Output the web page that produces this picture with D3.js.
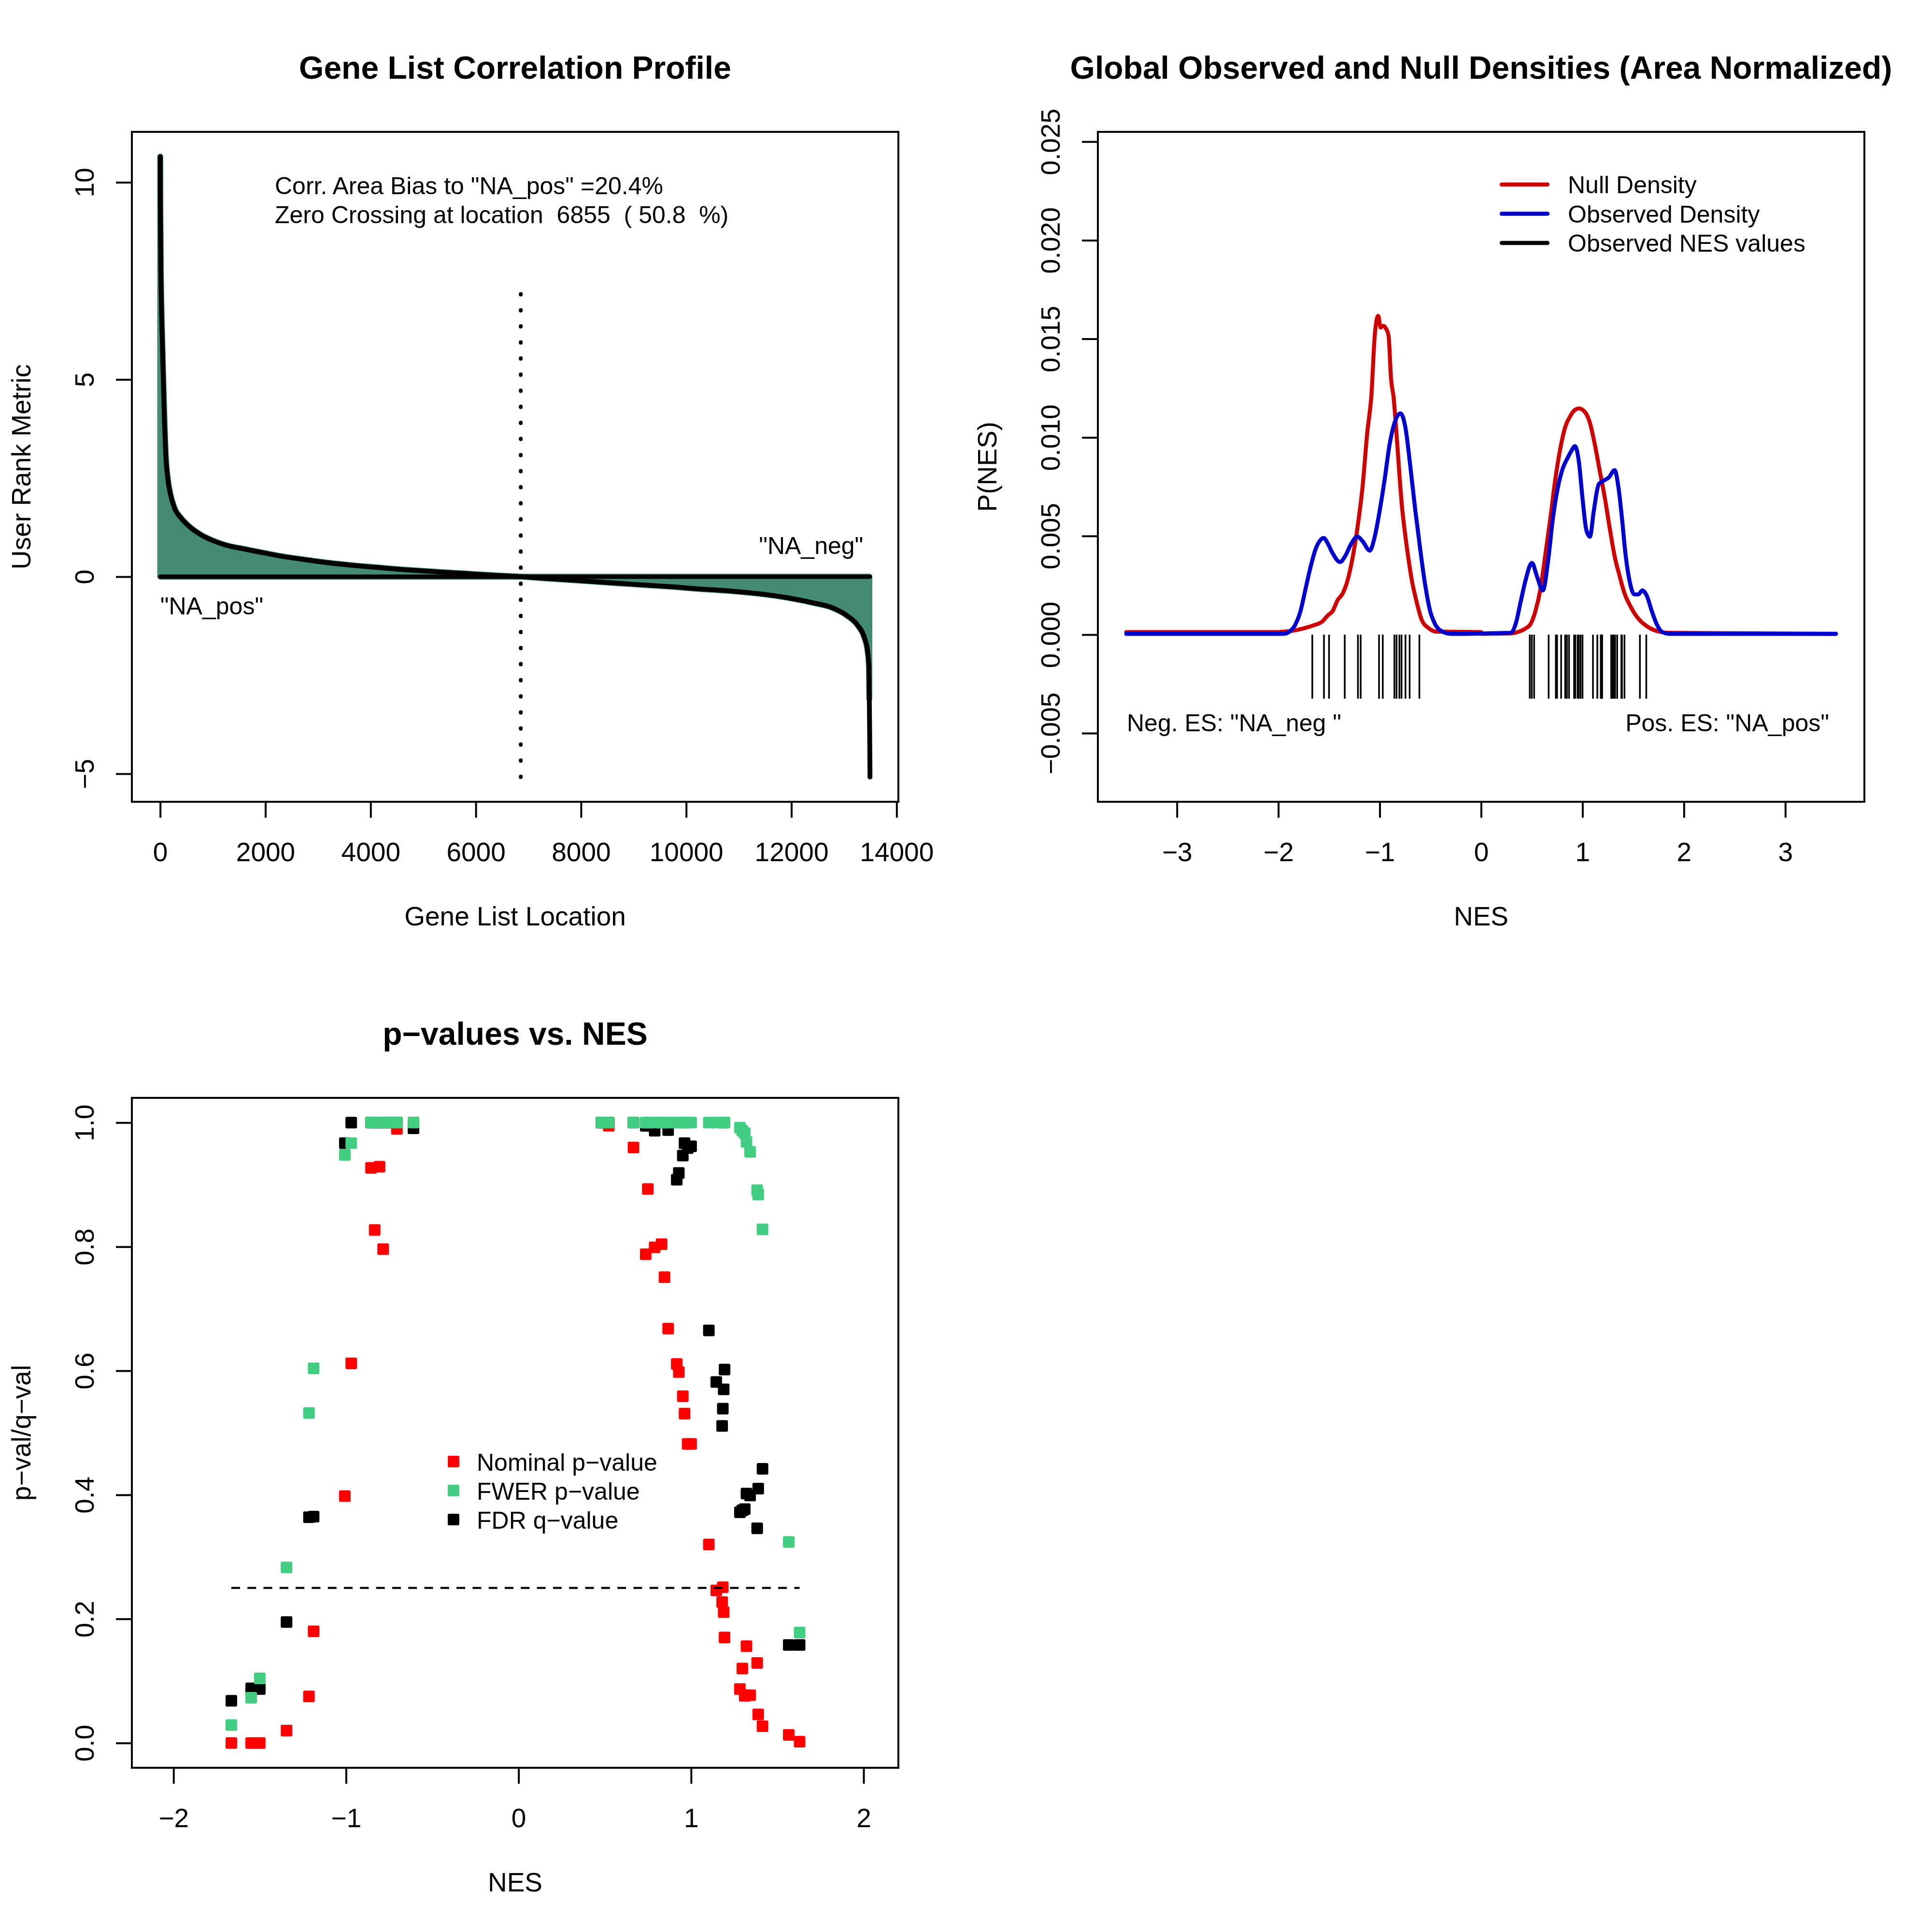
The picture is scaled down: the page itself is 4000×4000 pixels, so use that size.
<!DOCTYPE html>
<html>
<head>
<meta charset="utf-8">
<script src="https://cdn.jsdelivr.net/npm/d3@7"></script>
<style>
  body { margin: 0; background: #fff; }
  text { font-family: "Liberation Sans", Arial, Helvetica, sans-serif; white-space: pre; }
</style>
</head>
<body>
<svg id="chart" width="4000" height="4000"></svg>
<script>
// ---- data ----

// ranked list metric (gene list location -> user rank metric)
const rankX = [1, 3, 7, 12, 18, 27, 37, 52, 67, 83, 104, 141, 196, 272, 400, 530, 750, 990, 1300, 1600,
  1900, 2250, 2700, 3200, 3700, 4150, 4600, 5100, 5600, 6000, 6400, 6855, 7300, 7900, 8400, 8850, 9300,
  9770, 10250, 10720, 11150, 11500, 11950, 12400, 12800, 13050, 13270, 13390, 13450, 13475, 13481, 13488, 13494];
const rankY = [10.65, 9.5, 8.7, 7.8, 7.2, 6.6, 6.1, 5.35, 4.6, 3.86, 3.12, 2.52, 2.08, 1.74, 1.48, 1.30, 1.08,
  0.92, 0.78, 0.70, 0.62, 0.53, 0.44, 0.35, 0.28, 0.23, 0.18, 0.135, 0.095, 0.06, 0.03, 0, -0.04, -0.095,
  -0.14, -0.18, -0.22, -0.26, -0.31, -0.35, -0.40, -0.45, -0.54, -0.66, -0.80, -0.98, -1.25, -1.55, -1.90,
  -2.3, -3.1, -4.0, -5.08];
const nGenes = 13494;
const zeroCross = 6855;
const lastShade = 13481;

// null density (two halves) and observed density, values x 1e-3
const nullNegX = [-3.5, -2.0, -1.951, -1.854, -1.757, -1.659, -1.561, -1.513, -1.464, -1.415, -1.366, -1.317,
  -1.269, -1.22, -1.171, -1.122, -1.083, -1.049, -1.015, -0.991, -0.966, -0.937, -0.913, -0.888, -0.864,
  -0.839, -0.805, -0.781, -0.757, -0.723, -0.683, -0.635, -0.586, -0.513, -0.439, 0];
const nullNegY = [0.13, 0.13, 0.15, 0.20, 0.31, 0.46, 0.69, 0.97, 1.2, 1.75, 2.08, 2.75, 3.86, 5.41, 7.41,
  10.29, 12.07, 15.17, 16.17, 15.57, 15.66, 15.51, 15.17, 12.95, 12.07, 10.51, 8.07, 6.52, 5.41, 4.08, 2.75,
  1.64, 0.75, 0.31, 0.15, 0.13];
const nullPosX = [0, 0.292, 0.389, 0.438, 0.487, 0.536, 0.585, 0.634, 0.682, 0.731, 0.78, 0.829, 0.878, 0.926,
  0.965, 1.024, 1.073, 1.122, 1.17, 1.219, 1.268, 1.317, 1.366, 1.415, 1.463, 1.512, 1.561, 1.658, 1.756,
  1.854, 3.5];
const nullPosY = [0.04, 0.06, 0.18, 0.31, 0.53, 1.2, 2.31, 4.08, 5.86, 7.85, 9.41, 10.52, 11.07, 11.40, 11.47,
  11.29, 10.74, 9.63, 8.30, 6.97, 5.41, 3.97, 2.97, 2.08, 1.53, 1.08, 0.75, 0.35, 0.15, 0.09, 0.04];
const obsX = [-3.5, -1.951, -1.878, -1.83, -1.781, -1.732, -1.683, -1.635, -1.586, -1.552, -1.513, -1.464,
  -1.391, -1.342, -1.279, -1.22, -1.171, -1.098, -1.049, -1.0, -0.952, -0.903, -0.854, -0.795, -0.747,
  -0.698, -0.649, -0.6, -0.552, -0.503, -0.454, -0.391, -0.293, 0.292, 0.34, 0.389, 0.438, 0.501, 0.55,
  0.609, 0.658, 0.707, 0.755, 0.804, 0.853, 0.887, 0.926, 0.965, 0.999, 1.038, 1.073, 1.112, 1.16, 1.209,
  1.258, 1.317, 1.356, 1.39, 1.424, 1.463, 1.512, 1.551, 1.59, 1.634, 1.683, 1.732, 1.781, 1.854, 3.5];
const obsY = [0.04, 0.04, 0.20, 0.53, 1.2, 2.31, 3.41, 4.30, 4.79, 4.90, 4.63, 4.12, 3.68, 3.97, 4.63, 4.97,
  4.75, 4.26, 4.97, 6.30, 7.85, 9.63, 10.74, 11.22, 10.51, 8.52, 6.30, 4.30, 2.53, 1.20, 0.53, 0.18, 0.04,
  0.09, 0.53, 1.64, 2.75, 3.64, 2.97, 2.24, 3.64, 5.86, 7.41, 8.41, 8.96, 9.29, 9.56, 8.74, 6.97, 5.30, 4.97,
  6.30, 7.63, 7.81, 7.96, 8.34, 7.41, 5.86, 4.08, 2.75, 2.04, 2.04, 2.24, 1.97, 1.20, 0.53, 0.15, 0.04, 0.04];

// gene sets: NES and their p / q values
const nes = [-1.665, -1.550, -1.500, -1.345, -1.215, -1.188, -1.007, -0.970, -0.855, -0.834, -0.806, -0.785,
  -0.746, -0.705, -0.609,
  0.480, 0.500, 0.523, 0.666, 0.737, 0.749, 0.789, 0.829, 0.846, 0.867, 0.917, 0.929, 0.952, 0.962, 0.980,
  1.000, 1.103, 1.146, 1.180, 1.184, 1.189, 1.194, 1.283, 1.297, 1.311, 1.321, 1.342, 1.383, 1.389, 1.414,
  1.566, 1.629];
const nomP = [0, 0, 0, 0.020, 0.075, 0.180, 0.398, 0.612, 0.927, 0.827, 0.929, 0.796, 1.0, 0.990, 1.0,
  1.0, 1.0, 0.995, 0.960, 0.788, 0.893, 0.799, 0.804, 0.751, 0.668, 0.611, 0.598, 0.559, 0.531, 0.482,
  0.482, 0.320, 0.246, 0.227, 0.251, 0.211, 0.170, 0.087, 0.120, 0.076, 0.156, 0.077, 0.129, 0.046, 0.027,
  0.013, 0.002];
const fwerP = [0.029, 0.073, 0.104, 0.283, 0.532, 0.604, 0.948, 0.967, 1, 1, 1, 1, 1, 1, 1,
  1, 1, 1, 1, 1, 1, 1, 1, 1, 1, 1, 1, 1, 1, 1, 1, 1, 1, 1, 1, 1, 1,
  0.992, 0.987, 0.983, 0.969, 0.953, 0.891, 0.884, 0.828, 0.324, 0.178];
const fdrQ = [0.068, 0.088, 0.087, 0.195, 0.364, 0.365, 0.967, 1.0, 1.0, 1.0, 1.0, 1.0, 1.0, 1.0, 0.991,
  1.0, 1.0, 1.0, 1.0, 0.995, 0.995, 0.987, 1.0, 1.0, 0.988, 0.908, 0.919, 0.947, 0.967, 0.959, 0.962,
  0.665, 0.582, 0.511, 0.539, 0.570, 0.602, 0.372, 0.375, 0.377, 0.402, 0.399, 0.346, 0.410, 0.442,
  0.158, 0.158];

// ticks
const rankXTicks = [0, 2000, 4000, 6000, 8000, 10000, 12000, 14000];
const rankYTicks = [-5, 0, 5, 10];
const nesTicks = [-3, -2, -1, 0, 1, 2, 3];
const densTicks = [-0.005, 0, 0.005, 0.010, 0.015, 0.020, 0.025];
const densLabels = ['\u22120.005', '0.000', '0.005', '0.010', '0.015', '0.020', '0.025'];
const pvNesTicks = [-2, -1, 0, 1, 2];
const pvTicks = [0, 0.2, 0.4, 0.6, 0.8, 1.0];
const pvLabels = ['0.0', '0.2', '0.4', '0.6', '0.8', '1.0'];

// plot limits
const densLimits = [-0.00722, 0.02424];
const pvNesLimits = [-2.077, 2.037];

// ---- layout ----
const svg = d3.select('#chart');
svg.append('rect').attr('width', 4000).attr('height', 4000).attr('fill', '#fff');

const L = 273, R = 1860, T = 273, B = 1660;
const pad = ([a, b]) => [a - 0.04 * (b - a), b + 0.04 * (b - a)];
const minus = (s) => String(s).replace('-', '\u2212');

function frame(g, x, y, o) {
  g.append('rect').attr('x', L).attr('y', T).attr('width', R - L).attr('height', B - T)
    .attr('fill', 'none').attr('stroke', '#000').attr('stroke-width', 4);

  const ax = g.append('g').attr('transform', `translate(0,${B})`)
    .call(d3.axisBottom(x).tickValues(o.xTicks).tickFormat((d, i) => o.xLabels[i])
      .tickSize(33).tickPadding(51).tickSizeOuter(0));
  ax.select('.domain').remove();
  ax.attr('font-size', 55).attr('font-family', null);
  ax.selectAll('line').attr('stroke-width', 4);
  ax.append('line').attr('x1', x(o.xTicks[0])).attr('x2', x(o.xTicks[o.xTicks.length - 1]))
    .attr('stroke', '#000').attr('stroke-width', 4).attr('stroke-linecap', 'square');

  const ay = g.append('g').attr('transform', `translate(${L},0)`)
    .call(d3.axisLeft(y).tickValues(o.yTicks).tickFormat((d, i) => o.yLabels[i])
      .tickSize(33).tickSizeOuter(0));
  ay.select('.domain').remove();
  ay.attr('font-size', 55).attr('font-family', null);
  ay.selectAll('line').attr('stroke-width', 4);
  ay.selectAll('text').attr('x', null).attr('dy', null).attr('text-anchor', 'middle')
    .attr('transform', 'translate(-79,0) rotate(-90)');
  ay.append('line').attr('y1', y(o.yTicks[0])).attr('y2', y(o.yTicks[o.yTicks.length - 1]))
    .attr('stroke', '#000').attr('stroke-width', 4).attr('stroke-linecap', 'square');

  g.append('text').attr('x', (L + R) / 2).attr('y', 163).attr('text-anchor', 'middle')
    .attr('font-size', 66).attr('font-weight', 'bold').text(o.title);
  g.append('text').attr('x', (L + R) / 2).attr('y', 1916).attr('text-anchor', 'middle')
    .attr('font-size', 55).text(o.xTitle);
  g.append('text').attr('transform', `translate(63,${(T + B) / 2}) rotate(-90)`)
    .attr('text-anchor', 'middle').attr('font-size', 55).text(o.yTitle);
}

// ---- panel 1: gene list correlation profile ----
const g1 = svg.append('g');
const x1 = d3.scaleLinear().domain(pad([1, nGenes])).range([L, R]);
const y1 = d3.scaleLinear().domain(pad([d3.min(rankY), d3.max(rankY)])).range([B, T]);
const rank = rankX.map((d, i) => ({ x: d, y: rankY[i] }));

g1.append('path')
  .datum(rank.filter((d) => d.x <= lastShade))
  .attr('d', d3.area().curve(d3.curveMonotoneX).x((d) => x1(d.x)).y0(y1(0)).y1((d) => y1(d.y)))
  .attr('fill', '#458B74').attr('stroke', '#458B74').attr('stroke-width', 12.5)
  .attr('stroke-linejoin', 'round');

g1.append('path').datum(rank)
  .attr('d', d3.line().curve(d3.curveMonotoneX).x((d) => x1(d.x)).y((d) => y1(d.y)))
  .attr('fill', 'none').attr('stroke', '#000').attr('stroke-width', 10)
  .attr('stroke-linejoin', 'round').attr('stroke-linecap', 'round');

g1.append('line').attr('x1', x1(1)).attr('x2', x1(nGenes)).attr('y1', y1(0)).attr('y2', y1(0))
  .attr('stroke', '#000').attr('stroke-width', 9).attr('stroke-linecap', 'round');

const maxCorr = d3.max(rankY), minCorr = d3.min(rankY);
g1.append('line').attr('x1', x1(zeroCross)).attr('x2', x1(zeroCross))
  .attr('y1', y1(minCorr)).attr('y2', y1(0.7 * maxCorr))
  .attr('stroke', '#000').attr('stroke-width', 8).attr('stroke-linecap', 'round')
  .attr('stroke-dasharray', '1 32.3');

frame(g1, x1, y1, {
  xTicks: rankXTicks, xLabels: rankXTicks.map(String),
  yTicks: rankYTicks, yLabels: rankYTicks.map(minus),
  title: 'Gene List Correlation Profile', xTitle: 'Gene List Location', yTitle: 'User Rank Metric'
});

g1.append('text').attr('x', 569).attr('y', 402).attr('font-size', 50)
  .text('Corr. Area Bias to "NA_pos" =20.4%');
g1.append('text').attr('x', 569).attr('y', 462).attr('font-size', 50)
  .text('Zero Crossing at location  6855  ( 50.8  %)');
g1.append('text').attr('x', x1(1)).attr('y', y1(-0.05 * maxCorr) + 35).attr('font-size', 50)
  .text('"NA_pos" ');
g1.append('text').attr('x', x1(nGenes)).attr('y', y1(0.05 * maxCorr) - 3).attr('font-size', 50)
  .attr('text-anchor', 'end').text('"NA_neg" ');

// ---- panel 2: global observed and null densities ----
const g2 = svg.append('g').attr('transform', 'translate(2000,0)');
const x2 = d3.scaleLinear().domain(pad([-3.5, 3.5])).range([L, R]);
const y2 = d3.scaleLinear().domain(pad(densLimits)).range([B, T]);
const dens = d3.line().curve(d3.curveMonotoneX).x((d) => x2(d[0])).y((d) => y2(d[1] / 1000));

[[nullNegX, nullNegY, '#CD0000'], [nullPosX, nullPosY, '#CD0000'], [obsX, obsY, '#0000CD']]
  .forEach(([xs, ys, col]) => {
    g2.append('path').datum(xs.map((d, i) => [d, ys[i]])).attr('d', dens)
      .attr('fill', 'none').attr('stroke', col).attr('stroke-width', 8.3)
      .attr('stroke-linejoin', 'round').attr('stroke-linecap', 'round');
  });

g2.append('g').selectAll('line').data(nes).join('line')
  .attr('x1', (d) => x2(d)).attr('x2', (d) => x2(d))
  .attr('y1', y2(0)).attr('y2', y2(-0.00325))
  .attr('stroke', '#000').attr('stroke-width', 3.5);

frame(g2, x2, y2, {
  xTicks: nesTicks, xLabels: nesTicks.map(minus),
  yTicks: densTicks, yLabels: densLabels,
  title: 'Global Observed and Null Densities (Area Normalized)', xTitle: 'NES', yTitle: 'P(NES)'
});

const densLegend = [['Null Density', '#CD0000'], ['Observed Density', '#0000CD'], ['Observed NES values', '#000']];
densLegend.forEach(([lab, col], i) => {
  const cy = 382 + i * 60.5;
  g2.append('line').attr('x1', 1109).attr('x2', 1204).attr('y1', cy).attr('y2', cy)
    .attr('stroke', col).attr('stroke-width', 8.3).attr('stroke-linecap', 'round');
  g2.append('text').attr('x', 1246).attr('y', cy + 18).attr('font-size', 50).text(lab);
});
g2.append('text').attr('x', 333).attr('y', 1514).attr('font-size', 50).text('Neg. ES: "NA_neg "');
g2.append('text').attr('x', 1787).attr('y', 1514).attr('font-size', 50).attr('text-anchor', 'end')
  .text('Pos. ES: "NA_pos"');

// ---- panel 3: p-values vs NES ----
const g3 = svg.append('g').attr('transform', 'translate(0,2000)');
const x3 = d3.scaleLinear().domain(pad(pvNesLimits)).range([L, R]);
const y3 = d3.scaleLinear().domain(pad([0, 1])).range([B, T]);

frame(g3, x3, y3, {
  xTicks: pvNesTicks, xLabels: pvNesTicks.map(minus),
  yTicks: pvTicks, yLabels: pvLabels,
  title: 'p\u2212values vs. NES', xTitle: 'NES', yTitle: 'p\u2212val/q\u2212val'
});

const sq = 24;
const series = [[nomP, '#FF0000'], [fdrQ, '#000000'], [fwerP, '#43CD80']];
series.forEach(([vals, col]) => {
  g3.append('g').selectAll('rect').data(vals).join('rect')
    .attr('x', (d, i) => x3(nes[i]) - sq / 2).attr('y', (d) => y3(d) - sq / 2)
    .attr('width', sq).attr('height', sq).attr('rx', 3).attr('fill', col);
});

g3.append('line').attr('x1', x3(d3.min(nes))).attr('x2', x3(d3.max(nes)))
  .attr('y1', y3(0.25)).attr('y2', y3(0.25))
  .attr('stroke', '#000').attr('stroke-width', 4.2).attr('stroke-dasharray', '18 15.3');

const pvLegend = [['Nominal p\u2212value', '#FF0000'], ['FWER p\u2212value', '#43CD80'], ['FDR q\u2212value', '#000000']];
pvLegend.forEach(([lab, col], i) => {
  const cy = 1026 + i * 60;
  g3.append('rect').attr('x', 939 - sq / 2).attr('y', cy - sq / 2).attr('width', sq).attr('height', sq)
    .attr('rx', 3).attr('fill', col);
  g3.append('text').attr('x', 987).attr('y', cy + 19).attr('font-size', 50).text(lab);
});
</script>
</body>
</html>
